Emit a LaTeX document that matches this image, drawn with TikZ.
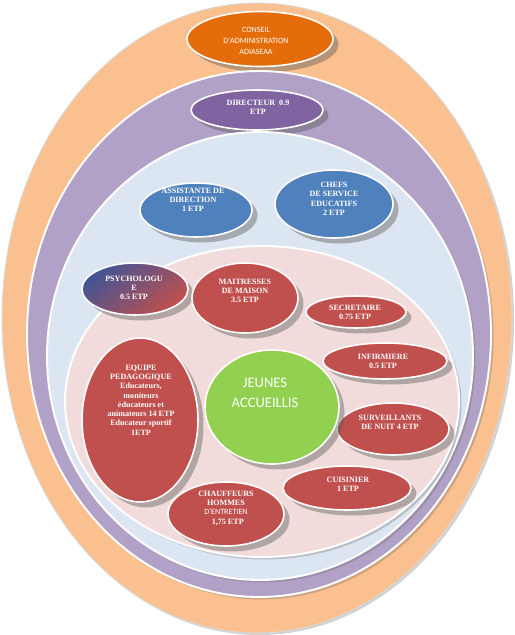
\documentclass[tikz,border=0pt]{standalone}
\usepackage{fontspec}
\setmainfont{Liberation Serif}
\newfontfamily\calibfont{Carlito}
\usetikzlibrary{shapes.geometric, shadows}

\definecolor{ringOrange}{RGB}{250,192,143}
\definecolor{ringPurple}{RGB}{178,161,199}
\definecolor{ringBlue}{RGB}{220,230,242}
\definecolor{ringPink}{RGB}{242,220,219}
\definecolor{boardOrange}{RGB}{228,108,10}
\definecolor{headPurple}{RGB}{128,100,162}
\definecolor{unitBlue}{RGB}{79,129,189}
\definecolor{unitRed}{RGB}{192,80,77}
\definecolor{psyBlue}{RGB}{66,84,150}
\definecolor{youthGreen}{RGB}{146,208,80}

\begin{document}
\begin{tikzpicture}[x=0.02cm, y=-0.02cm,
    ring/.style={draw=white, line width=1.1pt, drop shadow={shadow xshift=0.05cm, shadow yshift=-0.05cm, opacity=0.3, fill=black!60}},
    unit/.style={ellipse, draw=white, line width=0.9pt, inner sep=0pt, drop shadow={shadow xshift=0.11cm, shadow yshift=-0.11cm, opacity=0.42, fill=black!65}},
    redunit/.style={unit, fill=unitRed},
    blueunit/.style={unit, fill=unitBlue},
    lbl/.style={text=white, align=center, inner sep=0pt, font=\fontsize{4.6}{5.1}\selectfont\bfseries}]

    \useasboundingbox (0,0) rectangle (514,635);

    % Outer ring: board
    \fill[ringOrange, draw=white!70!gray, line width=0.5pt, drop shadow={shadow xshift=0.04cm, shadow yshift=-0.04cm, opacity=0.3, fill=black!60}] (257,318) ellipse [x radius=255, y radius=315];
    \node[unit, fill=boardOrange, minimum width=146*0.02cm, minimum height=55*0.02cm] (conseil) at (260,39) {};
    \node[lbl, font=\calibfont\fontsize{4.6}{6.4}\selectfont] (conseil-t) at (256,41) {CONSEIL\\D'ADMINISTRATION\\ADIASEAA};

    % Direction ring
    \fill[ringPurple, ring] (259,334) ellipse [x radius=232, y radius=263];
    \node[unit, fill=headPurple, minimum width=132*0.02cm, minimum height=40*0.02cm] (directeur) at (257,110) {};
    \node[lbl] (directeur-t) at (258,107) {DIRECTEUR~~0.9\\ETP};

    % Management ring
    \fill[ringBlue, ring] (260,356) ellipse [x radius=213, y radius=224];
    \node[blueunit, minimum width=112*0.02cm, minimum height=54*0.02cm] (assistante) at (196,210) {};
    \node[blueunit, minimum width=118*0.02cm, minimum height=68*0.02cm] (chefs) at (334,204) {};
    \node[lbl] (assistante-t) at (193,200) {ASSISTANTE DE\\DIRECTION\\1 ETP};
    \node[lbl, font=\fontsize{4.6}{5.4}\selectfont\bfseries] (chefs-t) at (334,199) {CHEFS\\DE SERVICE\\EDUCATIFS\\2 ETP};

    % Staff ring
    \fill[ringPink, ring] (262,401.5) ellipse [x radius=197, y radius=155.5];
    \node[unit, left color=psyBlue, right color=unitRed, shading angle=40, minimum width=106*0.02cm, minimum height=52*0.02cm] (psychologue) at (135,289) {};
    \foreach \nm/\x/\y/\rx/\ry in {maitresses/245/298/53/35, secretaire/356/312/50/16,
        infirmiere/385/361/62/18, equipe/140/420/58/82, surveillants/393/429/56/26,
        cuisinier/347/488/64/22, chauffeurs/226/514/58/32}
        \node[redunit, minimum width=\rx*0.04cm, minimum height=\ry*0.04cm] (\nm) at (\x,\y) {};

    % Centre
    \node[unit, fill=youthGreen, minimum width=134*0.02cm, minimum height=114*0.02cm] (jeunes) at (272,407) {};
    \node[lbl, font=\calibfont\fontsize{8.3}{11.3}\selectfont] (jeunes-t) at (265,393) {JEUNES\\ACCUEILLIS};

    % Labels
    \node[lbl] (psychologue-t) at (134,288) {PSYCHOLOGU\\E\\0.5 ETP};
    \node[lbl] (maitresses-t) at (245,291) {MAITRESSES\\DE MAISON\\3.5 ETP};
    \node[lbl] (secretaire-t) at (355,312) {SECRETAIRE\\0.75 ETP};
    \node[lbl] (infirmiere-t) at (383,361) {INFIRMIERE\\0.5 ETP};
    \node[lbl, font=\fontsize{4.6}{5.3}\selectfont\bfseries] (equipe-t) at (141,400) {EQUIPE\\PEDAGOGIQUE\\Educateurs,\\moniteurs\\éducateurs et\\animateurs 14 ETP\\Educateur sportif\\1ETP};
    \node[lbl] (surveillants-t) at (390,422) {SURVEILLANTS\\DE NUIT 4 ETP};
    \node[lbl] (cuisinier-t) at (348,484) {CUISINIER\\1 ETP};
    \node[lbl, font=\fontsize{4.6}{5.3}\selectfont\bfseries] (chauffeurs-t) at (226,508) {CHAUFFEURS\\HOMMES\\{\calibfont\mdseries D'ENTRETIEN}\hspace*{7pt}\\\hspace*{2pt}1,75 ETP};
\end{tikzpicture}
\end{document}
